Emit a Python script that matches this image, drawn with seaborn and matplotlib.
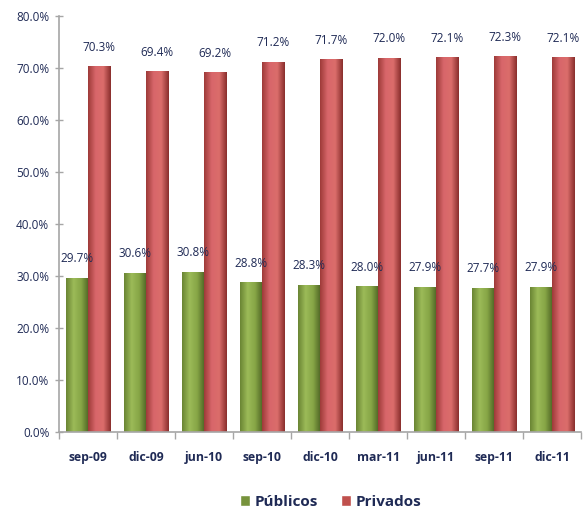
import numpy as np
import pandas as pd
import matplotlib
matplotlib.use("Agg")
import matplotlib.pyplot as plt
from matplotlib.colors import LinearSegmentedColormap
from matplotlib.ticker import FuncFormatter
import seaborn as sns

periods = ["sep-09", "dic-09", "jun-10", "sep-10", "dic-10", "mar-11", "jun-11", "sep-11", "dic-11"]
publicos = [29.7, 30.6, 30.8, 28.8, 28.3, 28.0, 27.9, 27.7, 27.9]
privados = [70.3, 69.4, 69.2, 71.2, 71.7, 72.0, 72.1, 72.3, 72.1]
series_names = ["Públicos", "Privados"]
y_ticks = [0, 10, 20, 30, 40, 50, 60, 70, 80]

df = pd.DataFrame({
    "periodo": periods * 2,
    "valor": publicos + privados,
    "tipo": [series_names[0]] * len(periods) + [series_names[1]] * len(periods),
})

sns.set_theme(style="white")
plt.rcParams["font.family"] = ["Open Sans", "DejaVu Sans"]

text_color = "#1F2A55"
green = "#77933C"
red = "#C0504D"

fig = plt.figure(figsize=(5.84, 5.14), dpi=100)
ax = fig.add_axes([59 / 584, (514 - 432) / 514, (581 - 59) / 584, (432 - 16) / 514])

sns.barplot(data=df, x="periodo", y="valor", hue="tipo", order=periods,
            hue_order=series_names, palette=[green, red], width=0.76,
            gap=0.0, saturation=1, ax=ax, legend=True)

# cylinder-like shading on every bar
shades = {
    0: LinearSegmentedColormap.from_list("g", ["#6A8534", "#9CBB58", "#86A546", "#4E6424"]),
    1: LinearSegmentedColormap.from_list("r", ["#9E3B39", "#D8666A", "#DB6D6B", "#8A2F2D"]),
}
grad = np.linspace(0, 1, 64).reshape(1, -1)
for i, cont in enumerate(ax.containers):
    for bar in cont:
        x0, y0 = bar.get_x(), bar.get_y()
        w, h = bar.get_width(), bar.get_height()
        im = ax.imshow(grad, extent=[x0, x0 + w, y0, y0 + h], aspect="auto",
                       cmap=shades[i], origin="lower", zorder=bar.get_zorder() + 0.1)
        im.set_clip_path(bar)
    ax.bar_label(cont, labels=[f"{v:.1f}%" for v in cont.datavalues], padding=9,
                 fontsize=8.5, color=text_color)

ax.set_xlim(-0.5, len(periods) - 0.5)
ax.set_ylim(0, 80)
ax.set_yticks(y_ticks)
ax.yaxis.set_major_formatter(FuncFormatter(lambda v, p: f"{v:.1f}%"))
ax.set_xlabel("")
ax.set_ylabel("")

for side in ["top", "right"]:
    ax.spines[side].set_visible(False)
for side in ["left", "bottom"]:
    ax.spines[side].set_color("#A6A6A6")
    ax.spines[side].set_linewidth(1.2)

ax.tick_params(axis="y", direction="inout", length=6, width=1, color="#A6A6A6",
               labelsize=8.5, labelcolor=text_color, pad=4, left=True)
ax.set_xticks(np.arange(len(periods)))
ax.set_xticklabels(periods, fontweight="bold")
ax.tick_params(axis="x", length=0, labelsize=8.8, labelcolor=text_color, pad=14)
# boundary ticks between categories
ax.set_xticks(np.arange(-0.5, len(periods), 1.0), minor=True)
ax.tick_params(axis="x", which="minor", direction="out", length=5, width=1,
               color="#A6A6A6", bottom=True)

leg = ax.legend(loc="center", bbox_to_anchor=(0.52, -0.168), ncol=2,
                frameon=False, handlelength=0.65, handleheight=0.8,
                handletextpad=0.3, columnspacing=1.5, borderpad=0.0,
                prop={"weight": "bold", "size": 11})
for t in leg.get_texts():
    t.set_color(text_color)

fig.savefig("out.png", dpi=100, facecolor="white")
